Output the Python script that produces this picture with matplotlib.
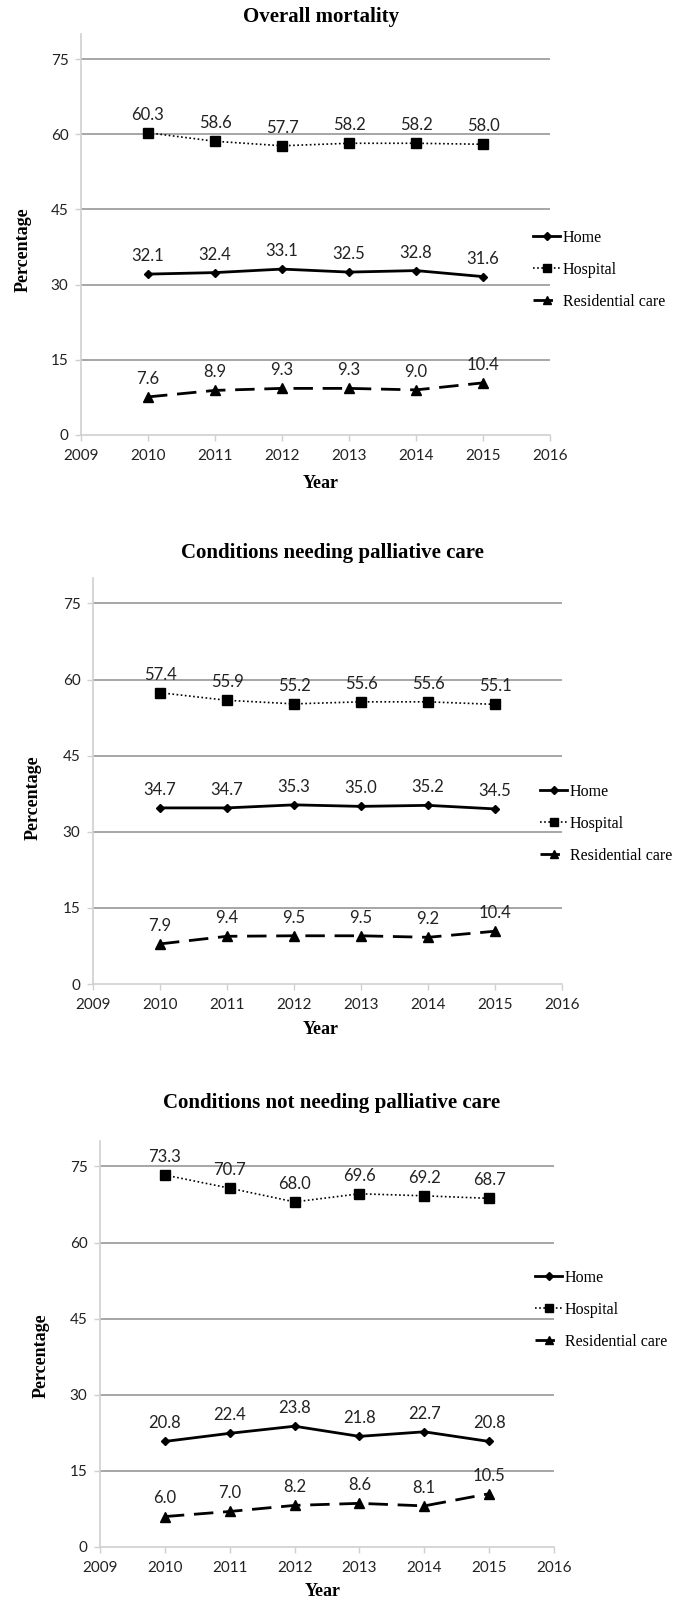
import matplotlib
matplotlib.use("Agg")
import matplotlib.pyplot as plt
from matplotlib.lines import Line2D

years = [2010, 2011, 2012, 2013, 2014, 2015]
series_names = ["Home", "Hospital", "Residential care"]
panel_titles = ["Overall mortality",
                "Conditions needing palliative care",
                "Conditions not needing palliative care"]

overall_home = [32.1, 32.4, 33.1, 32.5, 32.8, 31.6]
overall_hospital = [60.3, 58.6, 57.7, 58.2, 58.2, 58.0]
overall_residential = [7.6, 8.9, 9.3, 9.3, 9.0, 10.4]

needing_home = [34.7, 34.7, 35.3, 35.0, 35.2, 34.5]
needing_hospital = [57.4, 55.9, 55.2, 55.6, 55.6, 55.1]
needing_residential = [7.9, 9.4, 9.5, 9.5, 9.2, 10.4]

notneeding_home = [20.8, 22.4, 23.8, 21.8, 22.7, 20.8]
notneeding_hospital = [73.3, 70.7, 68.0, 69.6, 69.2, 68.7]
notneeding_residential = [6.0, 7.0, 8.2, 8.6, 8.1, 10.5]

xticks = [2009, 2010, 2011, 2012, 2013, 2014, 2015, 2016]
yticks = [0, 15, 30, 45, 60, 75]

panels = [
    (overall_home, overall_hospital, overall_residential),
    (needing_home, needing_hospital, needing_residential),
    (notneeding_home, notneeding_hospital, notneeding_residential),
]

W, H = 680, 1603
fig = plt.figure(figsize=(W / 100, H / 100), dpi=100)

layout = [
    dict(l=81, r=550, y0=435, y80=34, title=(321, 17), year=(321, 484), pct=(23, 250), leg=(533, 270)),
    dict(l=93, r=562, y0=984, y80=578, title=(332, 553), year=(321, 1030), pct=(33, 798), leg=(540, 824)),
    dict(l=100, r=554, y0=1547, y80=1141, title=(332, 1103), year=(323, 1592), pct=(41, 1356), leg=(535, 1310)),
]

serif = "Liberation Serif"
sans = "Lato"
grid_c = "#a6a6a6"
spine_c = "#d0d0d0"
txt_c = "#222222"

styles = [
    dict(color="black", lw=2.0, linestyle="-", marker="D", ms=4.5),
    dict(color="black", lw=1.2, linestyle=(0, (1, 1.5)), marker="s", ms=7),
    dict(color="black", lw=2.0, linestyle=(0, (7, 3.5)), marker="^", ms=7),
]

for data, lay, title in zip(panels, layout, panel_titles):
    l, r, y0, y80 = lay["l"], lay["r"], lay["y0"], lay["y80"]
    ax = fig.add_axes([l / W, 1 - y0 / H, (r - l) / W, (y0 - y80) / H])
    ax.set_xlim(2009, 2016)
    ax.set_ylim(0, 80)
    ax.set_xticks(xticks)
    ax.set_yticks(yticks)
    ax.set_xticklabels([str(x) for x in xticks], fontfamily=sans, fontsize=11, color=txt_c)
    ax.set_yticklabels([str(y) for y in yticks], fontfamily=sans, fontsize=11, color=txt_c)
    ax.tick_params(axis="x", length=4, width=1, color=spine_c, pad=6)
    ax.tick_params(axis="y", length=4, width=1, color=spine_c, pad=5)
    for s in ["top", "right"]:
        ax.spines[s].set_visible(False)
    for s in ["left", "bottom"]:
        ax.spines[s].set_color(spine_c)
        ax.spines[s].set_linewidth(1.2)
    for yv in yticks[1:]:
        ax.axhline(yv, color=grid_c, lw=1.4, zorder=0)

    handles = []
    for vals, st, name in zip(data, styles, series_names):
        ax.plot(years, vals, color=st["color"], lw=st["lw"], linestyle=st["linestyle"],
                marker=st["marker"], markersize=st["ms"], clip_on=False, zorder=3)
        handles.append(Line2D([], [], color=st["color"], lw=st["lw"], linestyle=st["linestyle"],
                              marker=st["marker"], markersize=st["ms"] * 0.8))
        for x, v in zip(years, vals):
            ax.annotate(f"{v:.1f}", (x, v), textcoords="offset points", xytext=(0, 13),
                        ha="center", va="center", fontfamily=sans, fontsize=12, color=txt_c)

    tx, ty = lay["title"]
    fig.text(tx / W, 1 - ty / H, title, ha="center", va="center", fontfamily=serif,
             fontweight="bold", fontsize=15, color="black")
    yx, yy = lay["year"]
    fig.text(yx / W, 1 - yy / H, "Year", ha="center", va="center", fontfamily=serif,
             fontweight="bold", fontsize=13, color="black")
    px, py = lay["pct"]
    fig.text(px / W, 1 - py / H, "Percentage", ha="center", va="center", rotation=90,
             fontfamily=serif, fontweight="bold", fontsize=13, color="black")
    lx, ly = lay["leg"]
    fig.legend(handles, series_names, loc="center left", bbox_to_anchor=(lx / W, 1 - ly / H),
               frameon=False, borderpad=0, borderaxespad=0, handlelength=1.7,
               handletextpad=0.15, labelspacing=1.0,
               prop=dict(family=serif, size=11.5))

fig.savefig("out.png", dpi=100)
